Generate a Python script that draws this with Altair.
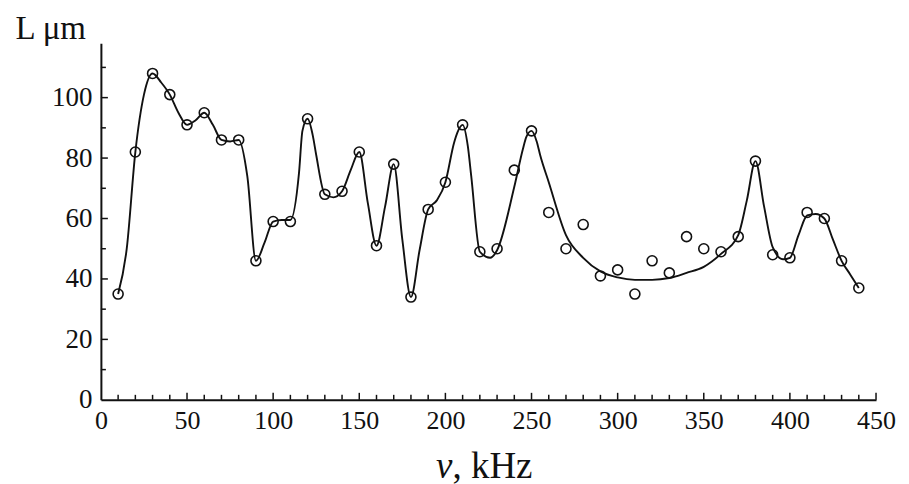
import altair as alt
import pandas as pd

# measured points: frequency (kHz) and length (um)
freq_khz = [10, 20, 30, 40, 50, 60, 70, 80, 90, 100,
            110, 120, 130, 140, 150, 160, 170, 180, 190, 200,
            210, 220, 230, 240, 250, 260, 270, 280, 290, 300,
            310, 320, 330, 340, 350, 360, 370, 380, 390, 400,
            410, 420, 430, 440]
length_um = [35, 82, 108, 101, 91, 95, 86, 86, 46, 59,
             59, 93, 68, 69, 82, 51, 78, 34, 63, 72,
             91, 49, 50, 76, 89, 62, 50, 58, 41, 43,
             35, 46, 42, 54, 50, 49, 54, 79, 48, 47,
             62, 60, 46, 37]

# smooth curve
curve_khz = [10, 15, 20, 25, 30, 35, 40, 45, 50, 55, 60, 65, 70, 75, 80, 85, 90, 95,
             100, 105, 110, 115, 117, 120, 123, 125, 130, 135, 140, 145, 150, 155, 160, 165,
             170, 175, 180, 185, 190, 195, 200, 205, 207, 210, 213, 215, 220, 226, 230, 240,
             245, 247, 250, 253, 255, 260, 270, 280, 290, 300, 310, 320, 330, 340, 350, 360,
             370, 375, 380, 385, 390, 396, 400, 405, 410, 415, 420, 425, 430, 435, 440]
curve_um = [35, 50, 82, 101, 108, 105, 101, 95, 91, 92.5, 95, 91, 86, 85.5, 86, 74, 46, 52,
            59, 59.5, 59.5, 75, 89, 93, 87.5, 81, 68, 67, 69, 76, 82, 65, 51, 64,
            78, 53, 34, 49.5, 63, 66, 72, 85, 88.5, 91, 84, 74, 49, 47, 49.5, 70.5,
            83, 87, 89, 85.5, 81, 72, 54.5, 47, 42.5, 40.5, 39.7, 39.7, 40.3, 42, 44, 48.3,
            54.5, 66, 79, 64, 50.5, 46.5, 47, 54.5, 61, 61.5, 60, 53, 46, 41.5, 37]

x_labels = [0, 50, 100, 150, 200, 250, 300, 350, 400, 450]
x_minor = [10, 20, 30, 40, 60, 70, 80, 90, 110, 120, 130, 140, 160, 170, 180, 190,
           210, 220, 230, 240, 260, 270, 280, 290, 310, 320, 330, 340, 360, 370,
           380, 390, 410, 420, 430, 440]
x_major = [50, 100, 150, 200, 250, 300, 350, 400, 450]
y_labels = [0, 20, 40, 60, 80, 100]
y_minor = [10, 30, 50, 70, 90, 110]
y_major = [20, 40, 60, 80, 100]

W, H = 776, 357
FONT = "Liberation Serif"
INK = "#111111"

pts = pd.DataFrame({"v": freq_khz, "L": length_um})
crv = pd.DataFrame({"v": curve_khz, "L": curve_um})

xscale = alt.Scale(domain=[0, 450], nice=False, zero=False)
yscale = alt.Scale(domain=[0, 118], nice=False)

x_axis = alt.Axis(values=x_labels, ticks=False, grid=False, domainColor=INK, domainWidth=2,
                  labelFont=FONT, labelFontSize=26, labelColor=INK, labelPadding=8,
                  labelFlush=False, title=None)
y_axis = alt.Axis(values=y_labels, ticks=False, grid=False, domainColor=INK, domainWidth=2,
                  labelFont=FONT, labelFontSize=27, labelColor=INK, labelPadding=9,
                  title="L μm", titleAngle=0, titleAlign="left", titleBaseline="alphabetic",
                  titleX=-86, titleY=-5, titleFont=FONT, titleFontSize=33,
                  titleFontWeight="normal", titleColor=INK)

X = alt.X("v:Q", scale=xscale, axis=x_axis)
Y = alt.Y("L:Q", scale=yscale, axis=y_axis)

curve = alt.Chart(crv).mark_line(color=INK, strokeWidth=1.9, interpolate="monotone").encode(
    x=X, y=Y,
)

points = alt.Chart(pts).mark_point(shape="circle", filled=False, size=100,
                                   color=INK, strokeWidth=1.6, opacity=1).encode(
    x=X, y=Y,
)

def xticks(vals, length):
    return alt.Chart(pd.DataFrame({"v": vals})).mark_rule(color=INK, strokeWidth=1.5).encode(
        x=X, y=alt.value(H), y2=alt.value(H - length))

def yticks(vals, length):
    return alt.Chart(pd.DataFrame({"L": vals})).mark_rule(color=INK, strokeWidth=1.5).encode(
        y=Y, x=alt.value(0), x2=alt.value(length))

title_nu = alt.Chart(pd.DataFrame({"t": ["ν"]})).mark_text(
    font=FONT, fontSize=37, fontStyle="italic", align="right", baseline="alphabetic", color=INK
).encode(text="t:N", x=alt.value(352), y=alt.value(435))

title_rest = alt.Chart(pd.DataFrame({"t": [", kHz"]})).mark_text(
    font=FONT, fontSize=37, align="left", baseline="alphabetic", color=INK
).encode(text="t:N", x=alt.value(352), y=alt.value(435))

chart = alt.layer(
    curve, xticks(x_minor, 5), xticks(x_major, 7), yticks(y_minor, 5), yticks(y_major, 7),
    points, title_nu, title_rest
).properties(
    width=W, height=H,
    autosize=alt.AutoSizeParams(type="none"),
    padding={"left": 93, "top": 35, "right": 25, "bottom": 88},
    background="white",
).configure(font=FONT).configure_axis(labelFont=FONT, titleFont=FONT).configure_view(stroke=None)

chart.save("out.html", embed_options={"renderer": "svg", "actions": False})
